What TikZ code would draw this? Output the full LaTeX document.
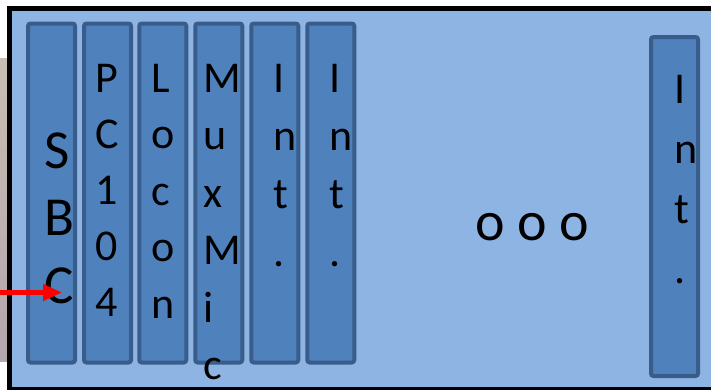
\documentclass[tikz,border=0pt]{standalone}
\usepackage{fontspec}
\setmainfont{Carlito}
\usetikzlibrary{arrows.meta}
\definecolor{bgblue}{HTML}{8EB4E3}
\definecolor{slotfill}{HTML}{4F81BD}
\definecolor{slotline}{HTML}{385D8A}
\definecolor{stripA}{HTML}{CABDB1}
\definecolor{stripB}{HTML}{B4A6AD}
\begin{document}
\begin{tikzpicture}[x=1pt,y=-1pt,
  slotbox/.style={draw=slotline, fill=slotfill, line width=4pt, rounded corners=2.5pt,
    minimum width=47pt, minimum height=339pt, inner sep=0pt, outer sep=0pt},
  smallchar/.style={font=\fontsize{44}{52}\selectfont, anchor=base west, inner sep=0pt, text=black},
  bigchar/.style={font=\fontsize{55}{66}\selectfont, anchor=base west, inner sep=0pt, text=black},
  redarrow/.style={draw=red, line width=4.5pt, -{Triangle[length=19pt,width=16pt]}}]
\useasboundingbox (0,0) rectangle (711,389);
% background strip behind container
\shade[top color=stripA, bottom color=stripB] (0,58) rectangle (8,361);
% container
\draw[line width=4.5pt, fill=bgblue] (9.5,8.5) rectangle (725,389.5);
% slots
\node[slotbox] (s1) at (51.5,193) {};
\node[slotbox] (s2) at (107.5,193) {};
\node[slotbox] (s3) at (162.75,193) {};
\node[slotbox] (s4) at (218.75,193) {};
\node[slotbox] (s5) at (274.75,193) {};
\node[slotbox] (s6) at (330.75,193) {};
\node[slotbox] (s7) at (674.5,206.5) {};
% labels
\foreach \c [count=\i] in {S,B,C}
  \node[bigchar] (sbc\i) at (44,{168+67.5*(\i-1)}) {\c};
\foreach \c [count=\i] in {P,C,1,0,4}
  \node[smallchar] (pc\i) at (95.5,{92+56*(\i-1)}) {\c};
\foreach \c [count=\i] in {L,o,c,o,n}
  \node[smallchar] (lo\i) at (151,{92+56.5*(\i-1)}) {\c};
\foreach \c [count=\i] in {M,u,x,M,i,c}
  \node[smallchar] (mu\i) at (203,{92+57.5*(\i-1)}) {\c};
\foreach \c [count=\i] in {I,n,t,.}
  \node[smallchar] (ia\i) at (273,{92+58*(\i-1)}) {\c};
\foreach \c [count=\i] in {I,n,t,.}
  \node[smallchar] (ib\i) at (329,{92+58*(\i-1)}) {\c};
\foreach \c [count=\i] in {I,n,t,.}
  \node[smallchar] (ic\i) at (674,{103+60*(\i-1)}) {\c};
\node[font=\fontsize{56}{66}\selectfont, anchor=base, inner sep=0pt] (dots) at (532,240) {o o o};
% red arrow
\coordinate (arrowstart) at (0,292.5);
\coordinate (arrowtip) at (62,292.5);
\draw[redarrow] (arrowstart) -- (arrowtip);
\end{tikzpicture}
\end{document}
